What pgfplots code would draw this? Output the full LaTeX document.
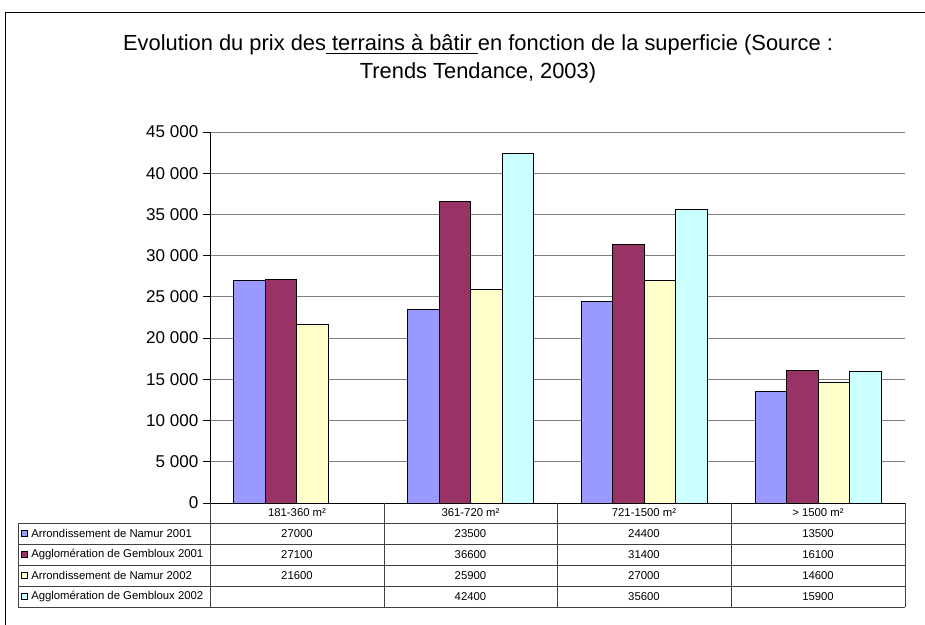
\documentclass[border=0pt]{standalone}
\usepackage{fontspec}
\setmainfont{Liberation Sans}
\usepackage{pgfplots}
\pgfplotsset{compat=1.18}
\definecolor{s1}{HTML}{9999FF}
\definecolor{s2}{HTML}{993366}
\definecolor{s3}{HTML}{FFFFCC}
\definecolor{s4}{HTML}{CCFFFF}
\definecolor{tline}{HTML}{404040}
\begin{document}
\begin{tikzpicture}
\path[use as bounding box] (0,0) rectangle (693.75pt,-468.75pt);
\begin{axis}[
  at={(157.5pt,-377.25pt)}, anchor=south west,
  width=521.25pt, height=278.25pt, scale only axis,
  xmin=-0.5, xmax=3.5, ymin=0, ymax=45000,
  axis x line=bottom, axis y line=left,
  axis line style={-, black, line width=0.75pt},
  xtick=\empty,
  scaled y ticks=false,
  ytick={0,5000,10000,15000,20000,25000,30000,35000,40000,45000},
  yticklabels={0,5 000,10 000,15 000,20 000,25 000,30 000,35 000,40 000,45 000},
  yticklabel style={font=\fontsize{12.8}{14}\selectfont},
  tick align=outside, major tick length=5.25pt,
  y tick style={black, line width=0.75pt},
  ymajorgrids, grid style={color=gray, line width=0.75pt},
  ybar=0pt, bar width=23.625pt,
  clip=false,
]
\addplot[fill=s1, draw=black, line width=0.75pt] coordinates {(0,27000) (1,23500) (2,24400) (3,13500)};
\addplot[fill=s2, draw=black, line width=0.75pt] coordinates {(0,27100) (1,36600) (2,31400) (3,16100)};
\addplot[fill=s3, draw=black, line width=0.75pt] coordinates {(0,21600) (1,25900) (2,27000) (3,14600)};
\addplot[fill=s4, draw=black, line width=0.75pt] coordinates {(1,42400) (2,35600) (3,15900)};
\end{axis}
\begin{scope}[x=0.75pt, y=-0.75pt]
\draw[black, line width=0.75pt] (5,640) -- (5,12) -- (940,12);
\node[font=\fontsize{16.4}{21}\selectfont, align=center] at (478,59)
  {Evolution du prix des\underline{ terrains à bâtir }en fonction de la superficie (Source :\\ Trends Tendance, 2003)};
% table grid
\begin{scope}[draw=tline, line width=0.75pt]
\draw (210,503) -- (210,607);
\foreach \xx in {384,557,731,905} \draw (\xx,503) -- (\xx,607);
\draw (18,523) -- (18,607);
\foreach \yy in {523,544,565,586,607} \draw (18,\yy) -- (905,\yy);
\end{scope}
\begin{scope}[font=\fontsize{8.5}{10}\selectfont]
\node at (297,513) {181-360 m²};
\node at (470.5,513) {361-720 m²};
\node at (644,513) {721-1500 m²};
\node at (818,513) {> 1500 m²};
\foreach \yy/\cc/\lab in {533.5/s1/Arrondissement de Namur 2001, 554.5/s2/Agglomération de Gembloux 2001, 575.5/s3/Arrondissement de Namur 2002, 596.5/s4/Agglomération de Gembloux 2002}{
  \filldraw[fill=\cc, draw=black, line width=0.6pt] (21,\yy-3) rectangle (27,\yy+3);
  \node[anchor=west, inner sep=0pt] at (31,\yy) {\lab};
}
\node at (297,533.5) {27000};
\node at (470.5,533.5) {23500};
\node at (644,533.5) {24400};
\node at (818,533.5) {13500};
\node at (297,554.5) {27100};
\node at (470.5,554.5) {36600};
\node at (644,554.5) {31400};
\node at (818,554.5) {16100};
\node at (297,575.5) {21600};
\node at (470.5,575.5) {25900};
\node at (644,575.5) {27000};
\node at (818,575.5) {14600};
\node at (470.5,596.5) {42400};
\node at (644,596.5) {35600};
\node at (818,596.5) {15900};
\end{scope}
\end{scope}
\end{tikzpicture}
\end{document}
